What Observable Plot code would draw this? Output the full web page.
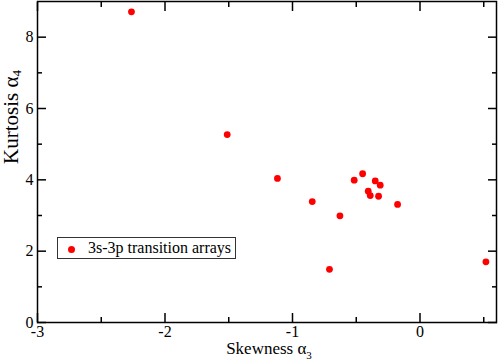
<!DOCTYPE html>
<html>
<head>
<meta charset="utf-8">
<script src="https://cdn.jsdelivr.net/npm/d3@7"></script>
<script src="https://cdn.jsdelivr.net/npm/@observablehq/plot@0.6"></script>
<style>
  html, body { margin: 0; padding: 0; background: white; }
  #wrap { position: relative; width: 498px; height: 363px; font-family: "Liberation Serif", serif; }
  #wrap svg text { font-family: "Liberation Serif", serif; }
  #legend { position: absolute; left: 57px; top: 237px; width: 179px; height: 22px; border: 1px solid #333; background: white; box-sizing: border-box; }
  #legend .dot { position: absolute; left: 10px; top: 8px; width: 7px; height: 7px; border-radius: 50%; background: #ff0000; }
  #legend .lab { position: absolute; left: 30px; top: 1px; font-size: 16px; line-height: 18px; white-space: nowrap; color: black; }
</style>
</head>
<body>
<div id="wrap"></div>
<script>
// Data
const skewness = [-2.263, -1.512, -1.118, -0.845, -0.628, -0.516, -0.450, -0.351, -0.312, -0.406, -0.390, -0.325, -0.176, -0.710, 0.517];
const kurtosis = [8.71, 5.27, 4.04, 3.39, 2.99, 3.99, 4.17, 3.97, 3.85, 3.68, 3.56, 3.54, 3.31, 1.49, 1.70];
const xMajor = [-3, -2, -1, 0];
const xMinor = [-2.5, -1.5, -0.5, 0.5];
const yMajor = [0, 2, 4, 6, 8];
const yMinor = [1, 3, 5, 7];
const xTitle = "Skewness α3";
const yTitle = "Kurtosis α4";
const seriesName = "3s-3p transition arrays";

const data = skewness.map((s, i) => ({s, k: kurtosis[i]}));
const fmt = d => String(d);

const plot = Plot.plot({
  width: 498,
  height: 363,
  marginLeft: 37,
  marginRight: 2,
  marginTop: 1,
  marginBottom: 41,
  style: {fontFamily: "'Liberation Serif', serif", fontSize: "16px", background: "white", color: "black"},
  x: {domain: [-3, 0.6], label: null},
  y: {domain: [0, 9], label: null},
  marks: [
    // major/minor ticks, pointing inward on all four sides
    Plot.axisX({anchor: "bottom", ticks: xMajor, tickSize: 9, dy: -9, fill: "none", strokeWidth: 1.5, label: null}),
    Plot.axisX({anchor: "bottom", ticks: xMinor, tickSize: 5, dy: -5, fill: "none", strokeWidth: 1.5, label: null}),
    Plot.axisX({anchor: "top", ticks: xMajor, tickSize: 9, dy: 9, fill: "none", strokeWidth: 1.5, label: null}),
    Plot.axisX({anchor: "top", ticks: xMinor, tickSize: 5, dy: 5, fill: "none", strokeWidth: 1.5, label: null}),
    Plot.axisY({anchor: "left", ticks: yMajor, tickSize: 9, dx: 9, fill: "none", strokeWidth: 1.5, label: null}),
    Plot.axisY({anchor: "left", ticks: yMinor, tickSize: 5, dx: 5, fill: "none", strokeWidth: 1.5, label: null}),
    Plot.axisY({anchor: "right", ticks: yMajor, tickSize: 9, dx: -9, fill: "none", strokeWidth: 1.5, label: null}),
    Plot.axisY({anchor: "right", ticks: yMinor, tickSize: 5, dx: -5, fill: "none", strokeWidth: 1.5, label: null}),
    // tick labels
    Plot.axisX({anchor: "bottom", ticks: xMajor, tickSize: 0, tickPadding: 3, tickFormat: fmt, label: null, fontSize: 16}),
    Plot.axisY({anchor: "left", ticks: yMajor, tickSize: 0, tickPadding: 4, tickFormat: fmt, label: null, fontSize: 16}),
    // axis titles
    Plot.text([xTitle], {text: d => d, frameAnchor: "bottom", lineAnchor: "bottom", dy: 31, dx: 2, fontSize: 17}),
    Plot.text([yTitle], {text: d => d, frameAnchor: "left", lineAnchor: "bottom", rotate: -90, dx: -19.5, dy: 2, fontSize: 21}),
    Plot.frame({stroke: "black", strokeWidth: 1.5}),
    Plot.dot(data, {x: "s", y: "k", r: 3.4, fill: "#ff0000", stroke: "none"})
  ]
});

// turn the trailing digit of the axis titles into a subscript
plot.querySelectorAll("text").forEach(t => {
  const s = t.textContent;
  if (s === xTitle || s === yTitle) {
    const base = s.slice(0, -1), sub = s.slice(-1);
    t.textContent = "";
    const a = document.createElementNS("http://www.w3.org/2000/svg", "tspan");
    a.textContent = base;
    const b = document.createElementNS("http://www.w3.org/2000/svg", "tspan");
    b.textContent = sub;
    b.setAttribute("font-size", s === yTitle ? "13" : "11");
    b.setAttribute("dy", s === yTitle ? "3" : "5");
    t.appendChild(a);
    t.appendChild(b);
  }
});

const wrap = document.getElementById("wrap");
wrap.appendChild(plot);
const legend = document.createElement("div");
legend.id = "legend";
legend.innerHTML = '<div class="dot"></div><div class="lab"></div>';
legend.querySelector(".lab").textContent = seriesName;
wrap.appendChild(legend);
</script>
</body>
</html>
